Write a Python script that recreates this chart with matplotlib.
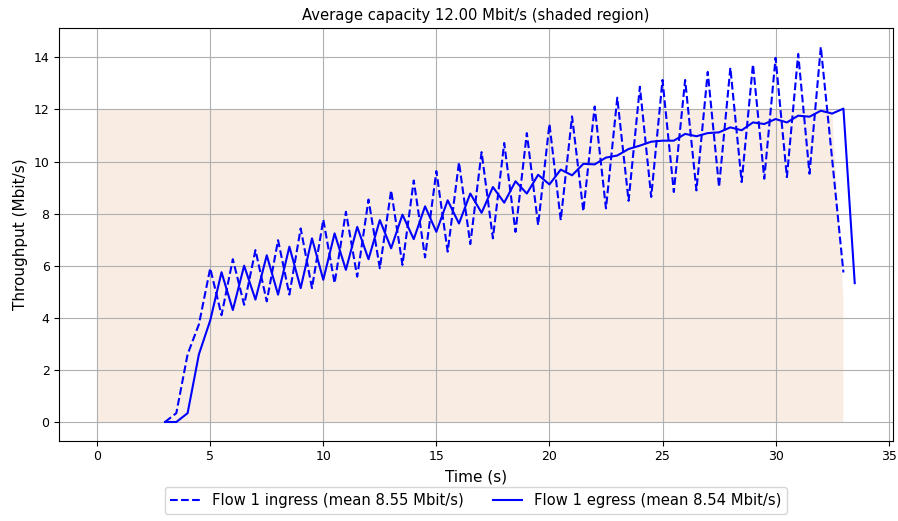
import numpy as np
import matplotlib
matplotlib.use("Agg")
import matplotlib.pyplot as plt

# capacity trace (shaded region)
cap_time = [0.0, 32.5, 33.0]
cap_rate = [12.0, 12.0, 4.8]

# flow 1 ingress, sampled every 0.5 s from 3.0 s
ingress_time = np.arange(3.0, 33.01, 0.5)
ingress_rate = [
    0.0, 0.34, 2.6, 3.75, 5.9, 4.1, 6.25, 4.5, 6.6, 4.63,
    6.98, 4.89, 7.43, 5.14, 7.77, 5.33, 8.07, 5.58, 8.54, 5.9,
    8.89, 6.03, 9.27, 6.32, 9.63, 6.54, 9.97, 6.83, 10.36, 7.05,
    10.71, 7.30, 11.09, 7.56, 11.44, 7.75, 11.73, 8.09, 12.11, 8.2,
    12.45, 8.49, 12.87, 8.64, 13.13, 8.83, 13.13, 8.89, 13.44, 9.02,
    13.6, 9.21, 13.73, 9.34, 13.98, 9.40, 14.13, 9.53, 14.4, 10.1,
    5.74,
]

# flow 1 egress, sampled every 0.5 s from 3.0 s
egress_time = np.arange(3.0, 33.51, 0.5)
egress_rate = [
    0.0, 0.0, 0.34, 2.6, 3.9, 5.75, 4.3, 6.0, 4.7, 6.4,
    4.89, 6.73, 5.14, 7.05, 5.46, 7.24, 5.84, 7.49, 6.25, 7.75,
    6.67, 7.96, 7.02, 8.28, 7.30, 8.51, 7.62, 8.77, 8.03, 9.02,
    8.42, 9.24, 8.77, 9.49, 9.12, 9.69, 9.47, 9.91, 9.89, 10.15,
    10.23, 10.48, 10.61, 10.76, 10.80, 10.8, 11.06, 10.97, 11.09, 11.12,
    11.31, 11.2, 11.5, 11.44, 11.63, 11.5, 11.76, 11.72, 11.95, 11.84,
    12.03, 5.33,
]

ingress_label = "Flow 1 ingress (mean 8.55 Mbit/s)"
egress_label = "Flow 1 egress (mean 8.54 Mbit/s)"

fig = plt.figure(figsize=(8.98, 5.21), dpi=100)
ax = fig.add_axes([0.066, 0.154, 0.928, 0.792])

ax.fill_between(cap_time, 0, cap_rate, facecolor='#f9ede3', linewidth=0)
ax.plot(ingress_time, ingress_rate, 'b--', label=ingress_label, linewidth=1.5)
ax.plot(egress_time, egress_rate, 'b-', label=egress_label, linewidth=1.5)

ax.grid(True)
ax.tick_params(labelsize=9)
ax.set_xlabel('Time (s)', fontsize=11)
ax.set_ylabel('Throughput (Mbit/s)', fontsize=11)
ax.set_title('Average capacity 12.00 Mbit/s (shaded region)', fontsize=10.6)

ax.legend(loc='upper center', bbox_to_anchor=(0.5, -0.095), ncol=2, fontsize=10.6)

fig.savefig('out.png', dpi=100)
